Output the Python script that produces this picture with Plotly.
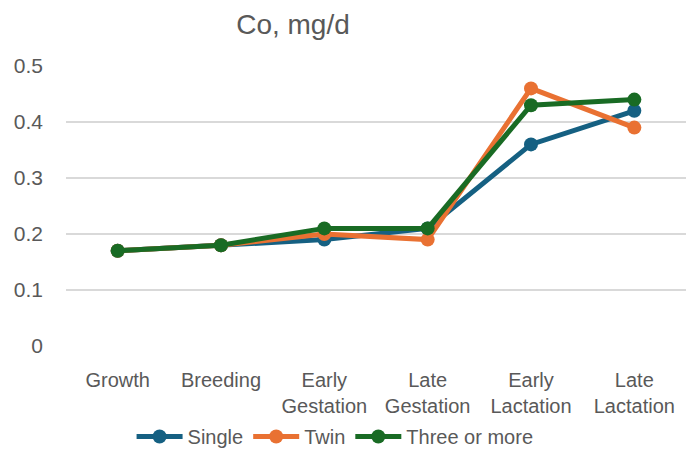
import plotly.graph_objects as go

categories = ["Growth", "Breeding", "Early<br>Gestation", "Late<br>Gestation", "Early<br>Lactation", "Late<br>Lactation"]
single = [0.17, 0.18, 0.19, 0.21, 0.36, 0.42]
twin = [0.17, 0.18, 0.20, 0.19, 0.46, 0.39]
three = [0.17, 0.18, 0.21, 0.21, 0.43, 0.44]
y_ticks = [0, 0.1, 0.2, 0.3, 0.4, 0.5]
y_labels = ["0", "0.1", "0.2", "0.3", "0.4", "0.5"]

series = [("Single", single, "#156082"), ("Twin", twin, "#E97132"), ("Three or more", three, "#196B24")]

fig = go.Figure()
for name, vals, col in series:
    fig.add_trace(go.Scatter(x=categories, y=vals, name=name, mode="lines+markers",
                             line=dict(color=col, width=5),
                             marker=dict(color=col, size=14)))

font = "Liberation Sans, Arial, sans-serif"
grey = "#595959"
fig.update_layout(
    width=686, height=456,
    margin=dict(l=66, r=0, t=66, b=109),
    paper_bgcolor="white", plot_bgcolor="white",
    font=dict(family=font, size=20, color=grey),
    title=dict(text="Co, mg/d", x=293/686, xanchor="center", y=1-24/456, yanchor="middle",
               font=dict(size=28, color=grey, family=font)),
    showlegend=True,
    legend=dict(orientation="h", x=0.434, xanchor="center", y=-0.324, yanchor="middle",
                font=dict(size=20, color=grey), itemwidth=46, traceorder="normal"),
    xaxis=dict(type="category", range=[-0.5, 5.5], showgrid=False, zeroline=False,
               showline=False, ticks="", ticklabelstandoff=20,
               tickfont=dict(size=20, color=grey), fixedrange=True),
    yaxis=dict(range=[0, 0.5], tickvals=y_ticks, ticktext=y_labels, showgrid=True,
               gridcolor="#D9D9D9", gridwidth=1.5, zeroline=False, showline=False,
               ticks="", ticklabelstandoff=22, tickfont=dict(size=21, color=grey)),
)
fig.write_html("out.html")
